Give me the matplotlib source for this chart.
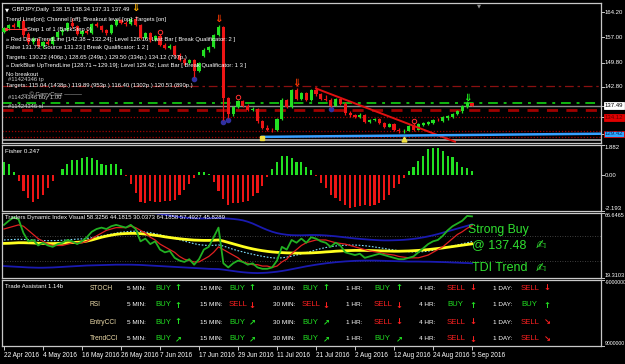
import matplotlib
matplotlib.use('Agg')
import matplotlib.pyplot as plt
import matplotlib.transforms as mtrans
from matplotlib.lines import Line2D

# ---------------- data ----------------
opens = [158.6, 159.6, 160.5, 159.9, 161.6, 157.8, 155.6, 156.6, 154.6, 155.7,
         155.2, 157.0, 158.6, 159.2, 161.0, 160.1, 158.0, 158.8, 158.2, 160.7,
         160.2, 159.0, 158.1, 160.6, 161.8, 161.1, 160.8, 162.3, 160.6, 156.9,
         158.2, 156.3, 157.4, 154.8, 154.0, 154.6, 151.9, 150.6, 149.6, 150.5,
         147.3, 151.8, 153.5, 154.2, 157.6, 160.0, 139.6, 135.0, 137.0, 138.7,
         137.5, 136.1, 136.4, 133.0, 131.2, 130.6, 130.4, 133.6, 139.2, 137.1,
         141.9, 139.4, 141.1, 139.1, 141.9, 140.7, 139.5, 139.2, 137.5, 139.4,
         138.0, 135.3, 134.7, 134.3, 134.9, 132.9, 133.3, 133.7, 132.4, 131.5,
         132.2, 130.6, 130.1, 130.3, 131.7, 130.6, 132.0, 132.3, 132.6, 133.5,
         133.1, 133.8, 134.3, 135.0, 135.8, 137.0, 138.15]
highs = [159.9, 160.8, 161.2, 162.0, 162.3, 158.4, 157.0, 156.9, 156.0, 156.5,
         157.3, 158.9, 159.6, 161.3, 162.6, 160.5, 159.1, 159.4, 161.0, 161.4,
         160.6, 159.4, 160.9, 162.1, 162.3, 161.6, 162.6, 163.1, 160.9, 158.5,
         158.6, 157.8, 157.9, 155.3, 155.0, 154.9, 152.4, 151.0, 150.9, 150.8,
         149.9, 153.9, 154.6, 157.9, 160.4, 160.3, 139.9, 137.4, 139.2, 139.0,
         137.9, 137.0, 136.9, 133.4, 131.8, 131.2, 134.0, 139.6, 139.5, 142.3,
         142.5, 141.5, 141.4, 142.2, 142.9, 141.0, 140.4, 139.6, 139.7, 139.7,
         138.4, 135.9, 135.2, 135.4, 135.1, 133.7, 134.0, 133.9, 132.8, 132.5,
         132.5, 131.0, 130.8, 131.9, 132.5, 132.6, 132.8, 133.1, 133.6, 133.9,
         134.4, 134.9, 135.5, 136.3, 137.6, 138.8, 138.34]
lows = [158.2, 159.2, 159.6, 159.7, 157.2, 155.0, 155.0, 154.2, 154.0, 154.8,
        154.9, 156.6, 157.8, 158.8, 159.8, 157.6, 157.4, 157.9, 158.0, 159.9,
        158.6, 157.6, 157.9, 160.3, 160.7, 160.2, 160.5, 160.3, 156.6, 156.5,
        155.8, 155.9, 154.4, 153.7, 153.6, 151.5, 150.3, 149.1, 149.3, 145.6,
        147.0, 151.5, 152.9, 153.9, 157.3, 133.5, 133.8, 134.5, 136.8, 137.2,
        135.8, 135.8, 132.6, 130.8, 130.3, 130.0, 130.2, 133.4, 136.8, 136.9,
        139.1, 139.1, 138.7, 138.9, 140.3, 139.0, 138.9, 137.2, 137.3, 137.6,
        134.9, 134.3, 133.9, 134.0, 132.6, 132.6, 133.0, 132.1, 131.2, 131.3,
        130.3, 129.7, 129.6, 130.1, 130.3, 130.4, 131.7, 132.0, 132.3, 133.0,
        132.8, 133.5, 134.0, 134.7, 135.5, 136.8, 137.31]
closes = [159.6, 160.5, 159.9, 161.6, 157.8, 155.6, 156.6, 154.6, 155.7, 155.2,
          157.0, 158.6, 159.2, 161.0, 160.1, 158.0, 158.8, 158.2, 160.7, 160.2,
          159.0, 158.1, 160.6, 161.8, 161.1, 160.8, 162.3, 160.6, 156.9, 158.2,
          156.3, 157.4, 154.8, 154.0, 154.6, 151.9, 150.6, 149.6, 150.5, 147.3,
          149.6, 153.5, 154.2, 157.6, 160.0, 139.6, 135.0, 137.0, 138.7, 137.5,
          136.1, 136.4, 133.0, 131.2, 130.6, 130.4, 133.6, 139.2, 137.1, 141.9,
          139.4, 141.1, 139.1, 141.9, 140.7, 139.4, 139.2, 137.5, 139.4, 138.0,
          135.3, 134.7, 134.3, 134.9, 132.9, 133.3, 133.7, 132.4, 131.5, 132.2,
          130.6, 130.1, 130.3, 131.7, 130.6, 132.3, 132.6, 132.9, 133.3, 133.3,
          134.1, 134.6, 135.2, 136.0, 137.3, 138.3, 137.49]

fisher = [0.86, 0.69, 0.2, -0.37, -0.94, -1.39, -1.63, -1.43, -1.18, -0.78,
          -0.37, 0.05, 0.41, 0.69, 0.94, 0.94, 1.06, 1.14, 1.06, 0.94,
          0.69, 0.65, 0.73, 0.69, 0.41, -0.05, -0.53, -1.08, -1.63, -1.69,
          -1.59, -1.63, -1.63, -1.55, -1.59, -1.49, -1.18, -0.88, -0.53, -0.16,
          0.2, 0.2, 0.08, -0.41, -0.98, -1.43, -1.8, -1.69, -1.69, -1.65,
          -1.55, -1.29, -1.08, -0.67, -0.12, 0.41, 0.86, 1.22, 1.22, 1.1,
          0.82, 0.82, 0.55, 0.35, -0.04, -0.47, -0.78, -1.18, -1.39, -1.59,
          -1.8, -2.0, -1.96, -1.9, -1.84, -1.9, -1.8, -1.69, -1.49, -1.18,
          -0.78, -0.53, -0.16, 0.25, 0.55, 0.9, 1.22, 1.63, 1.71, 1.67,
          1.51, 1.22, 1.16, 0.82, 0.55, 0.45, 0.247]

tdi_green = [58, 61, 63.5, 62, 52, 46, 47, 43, 45, 43,
             42, 44, 45, 47, 46, 44, 46, 49, 53, 55,
             56, 55, 57, 58, 57, 56, 58, 55, 46, 48,
             44, 46, 40, 38, 39, 34, 32, 31, 33, 29,
             33, 40, 42, 49, 56, 30, 27, 30, 32, 31,
             29, 30, 27, 26, 26, 27, 32, 42, 40, 47,
             45, 48, 45, 49, 48, 46, 45, 42, 45, 43,
             38, 37, 36, 37, 34, 35, 36, 37, 36, 35,
             34, 33, 33, 34, 35, 38, 41, 44, 46, 47,
             50, 54, 57, 59, 61, 64.5, 64.1858]
tdi_red = [55, 56, 57, 58, 57, 54, 51, 48, 46, 44,
           43, 43, 43, 44, 45, 45, 45, 46, 48, 50,
           52, 54, 55, 56, 56, 56, 57, 56, 54, 52,
           49, 47, 44, 42, 40, 38, 35, 33, 32, 31,
           31, 33, 35, 38, 42, 40, 38, 36, 34, 31,
           30, 29, 29, 28, 28, 27, 28, 31, 33, 37,
           40, 43, 45, 46, 47, 47, 47, 46, 45, 44.5,
           44, 43, 42, 41, 40, 39, 38.5, 38, 37, 36.5,
           36, 35, 34.5, 34, 34, 34, 35, 36, 38, 40,
           42, 45, 48, 51, 53, 55.5, 57.4927]
tdi_yellow = [44.5, 44.6, 44.8, 45.0, 45.0, 44.9, 44.8, 44.6, 44.5, 44.4,
              44.4, 44.5, 44.6, 44.9, 45.1, 45.3, 45.6, 46.2, 47.0, 48.0,
              49.0, 49.8, 50.5, 51.1, 51.5, 51.7, 51.8, 51.8, 51.6, 51.3,
              50.9, 50.4, 49.9, 49.3, 48.8, 48.3, 47.9, 47.5, 47.2, 46.9,
              46.8, 46.7, 46.7, 46.8, 47.0, 46.2, 45.2, 44.2, 43.2, 42.2,
              41.3, 40.5, 39.8, 39.2, 38.7, 38.3, 38.0, 37.8, 37.6, 37.5,
              37.4, 37.4, 37.5, 37.6, 37.8, 38.0, 38.3, 38.5, 38.8, 39.0,
              39.2, 39.3, 39.4, 39.4, 39.4, 39.3, 39.2, 39.1, 39.0, 38.9,
              38.8, 38.8, 38.9, 39.0, 39.2, 39.4, 39.7, 40.0, 40.4, 40.8,
              41.2, 41.7, 42.2, 42.7, 43.2, 43.7, 44.1815]
tdi_upper = [68.5, 68.8, 69.0, 69.2, 69.3, 69.2, 69.0, 68.7, 68.4, 68.1,
             67.8, 67.6, 67.5, 67.5, 67.6, 67.8, 68.0, 68.3, 68.6, 68.9,
             69.2, 69.4, 69.5, 69.5, 69.4, 69.2, 68.9, 68.5, 68.0, 67.5,
             67.0, 66.5, 66.0, 65.4, 64.8, 64.2, 63.7, 63.3, 63.0, 62.8,
             62.7, 62.7, 62.8, 62.9, 63.0, 62.8, 62.6, 62.3, 61.9, 61.3,
             60.3, 59.0, 57.4, 55.8, 54.3, 53.0, 52.0, 51.3, 50.8, 50.5,
             50.4, 50.4, 50.5, 50.6, 50.6, 50.5, 50.3, 50.0, 49.7, 49.3,
             48.9, 48.5, 48.1, 47.8, 47.5, 47.2, 47.0, 46.8, 46.7, 46.7,
             46.8, 46.9, 47.1, 47.4, 47.8, 48.3, 48.9, 49.6, 50.4, 51.3,
             52.3, 53.3, 54.3, 55.3, 56.3, 57.3, 58.3256]
tdi_lower = [28.0, 27.8, 27.6, 27.4, 27.2, 27.0, 26.9, 26.8, 26.8, 26.9,
             27.0, 27.2, 27.4, 27.6, 27.8, 28.0, 28.2, 28.4, 28.5, 28.6,
             28.7, 28.8, 28.9, 29.0, 29.0, 29.0, 29.0, 28.9, 28.8, 28.6,
             28.4, 28.2, 28.0, 27.8, 27.6, 27.4, 27.2, 27.0, 26.8, 26.6,
             26.4, 26.2, 26.0, 25.9, 25.8, 25.4, 24.9, 24.4, 23.9, 23.5,
             23.2, 23.0, 22.9, 23.0, 23.2, 23.5, 23.9, 24.4, 25.0, 25.7,
             26.4, 27.1, 27.8, 28.4, 29.0, 29.5, 30.0, 30.4, 30.8, 31.1,
             31.4, 31.6, 31.8, 31.9, 32.0, 32.0, 32.0, 31.9, 31.8, 31.7,
             31.6, 31.5, 31.4, 31.3, 31.3, 31.3, 31.2, 31.2, 31.1, 31.0,
             30.9, 30.8, 30.6, 30.5, 30.3, 30.2, 30.0373]
tdi_dotted = [47.0, 47.2, 47.4, 47.5, 47.4, 47.2, 47.0, 46.8, 46.6, 46.5,
              46.5, 46.6, 46.8, 47.1, 47.4, 47.6, 47.8, 48.1, 48.6, 49.2,
              49.9, 50.6, 51.3, 52.0, 52.6, 53.0, 53.3, 53.4, 53.2, 52.8,
              52.3, 51.6, 50.8, 50.0, 49.1, 48.2, 47.2, 46.2, 45.2, 44.3,
              43.6, 43.2, 43.0, 43.1, 43.4, 42.6, 41.4, 40.2, 39.2, 38.3,
              37.4, 36.6, 35.8, 35.1, 34.5, 34.0, 33.8, 34.0, 34.5, 35.2,
              36.0, 36.9, 37.8, 38.8, 39.8, 40.7, 41.5, 42.1, 42.6, 43.0,
              43.2, 43.3, 43.3, 43.1, 42.8, 42.4, 41.9, 41.4, 40.8, 40.2,
              39.7, 39.2, 38.8, 38.5, 38.3, 38.3, 38.5, 38.9, 39.5, 40.2,
              41.0, 41.8, 42.6, 43.4, 44.2, 45.0, 45.8289]

date_ticks = [0, 8, 16, 24, 32, 40, 48, 56, 64, 72, 80, 88, 96]
date_labels = ['22 Apr 2016', '4 May 2016', '16 May 2016', '26 May 2016', '7 Jun 2016',
               '17 Jun 2016', '29 Jun 2016', '11 Jul 2016', '21 Jul 2016', '2 Aug 2016',
               '12 Aug 2016', '24 Aug 2016', '5 Sep 2016']
price_ticks = [164.20, 157.00, 149.80, 142.80]

# horizontal levels in main chart
lvl_darkred_dashdot = 143.09
lvl_green_dashdot = 138.37
lvl_bid = 137.49
lvl_red_dash = 136.2
lvl_red_dot1 = 134.12
lvl_red_dot2 = 130.22
lvl_red_dot3 = 128.65
lvl_gray = 127.66
red_trend_x = [64, 92.5]
red_trend_y = [142.38, 127.17]
blue_trend_x = [53, 122.5]
blue_trend_y = [128.55, 129.45]

ta_rows = ['STOCH', 'RSI', 'EntryCCI', 'TrendCCI']
ta_frames = ['5 MIN:', '15 MIN:', '30 MIN:', '1 HR:', '4 HR:', '1 DAY:']
ta_signals = [['BUY', 'BUY', 'BUY', 'BUY', 'SELL', 'SELL'],
              ['BUY', 'SELL', 'SELL', 'SELL', 'BUY', 'BUY'],
              ['BUY', 'BUY', 'BUY', 'SELL', 'SELL', 'SELL'],
              ['BUY', 'BUY', 'BUY', 'BUY', 'SELL', 'SELL']]
ta_arrows = [['↑', '↑', '↑', '↑', '↓', '↓'],
             ['↑', '↓', '↓', '↓', '↑', '↑'],
             ['↑', '↗', '↗', '↓', '↓', '↘'],
             ['↗', '↗', '↗', '↗', '↓', '↘']]

# ---------------- figure ----------------
W, H = 625, 364
fig = plt.figure(figsize=(W / 100, H / 100), dpi=100, facecolor='black')
SANS = ['Liberation Sans', 'DejaVu Sans']
XMIN, XMAX = -0.41, 122.46
GREEN = '#22e022'
RED = '#ee1515'


def add_ax(y0, y1, x0=2, x1=601):
    ax = fig.add_axes([x0 / W, 1 - y1 / H, (x1 - x0) / W, (y1 - y0) / H])
    ax.set_facecolor('black')
    for s in ax.spines.values():
        s.set_color('#c8c8c8')
        s.set_linewidth(0.9)
    ax.set_xticks([])
    ax.set_yticks([])
    ax.set_xlim(XMIN, XMAX)
    return ax


def ptext(x, y, s, **kw):
    kw.setdefault('color', 'white')
    kw.setdefault('family', SANS)
    kw.setdefault('va', 'center')
    fig.text(x / W, 1 - y / H, s, **kw)


def right_label(ax, v, s, va='center', box=None, tc='white', fs=4.3):
    tr = mtrans.blended_transform_factory(ax.transAxes, ax.transData)
    ax.plot([1.0, 1.0 + 3 / 599], [v, v], transform=tr, clip_on=False,
            color='#c8c8c8', lw=0.7)
    kw = {}
    if box is not None:
        kw['bbox'] = dict(facecolor=box[0], edgecolor=box[1], pad=0.5, lw=0.6)
    ax.text(1.0 + 3.5 / 599, v, s, transform=tr, clip_on=False, fontsize=fs,
            color=tc, va=va, ha='left', family=SANS, **kw)


# ---- main price panel ----
axm = add_ax(3, 143)
axm.set_ylim(126.8, 166.8)
n = len(closes)
for i in range(n):
    o, h, l, c = opens[i], highs[i], lows[i], closes[i]
    col = GREEN if c >= o else RED
    axm.vlines(i, l, h, color=col, lw=0.9, zorder=3)
    lo, hi = min(o, c), max(o, c)
    if hi - lo < 0.12:
        hi = lo + 0.12
    axm.bar(i, hi - lo, bottom=lo, width=0.62, color=col, edgecolor=col, lw=0, zorder=4)

axm.axhline(lvl_darkred_dashdot, color='#8a1010', lw=0.9, dashes=(7, 3, 2, 3), zorder=2)
axm.axhline(lvl_green_dashdot, color='#10b810', lw=1.4, dashes=(5, 3, 1.5, 3), zorder=2)
axm.axhline(lvl_bid, color='#8c8c8c', lw=1.0, zorder=2)
axm.axhline(lvl_red_dash, color='#a00000', lw=2.0, dashes=(4, 3), zorder=2)
axm.axhline(lvl_red_dot1, color='#a00000', lw=0.9, dashes=(1, 1.5), zorder=2)
axm.axhline(lvl_red_dot2, color='#a00000', lw=0.9, dashes=(1, 1.5), zorder=2)
axm.axhline(lvl_red_dot3, color='#a00000', lw=0.9, dashes=(1, 1.5), zorder=2)
axm.axhline(lvl_gray, color='#b0b0b0', lw=1.2, zorder=2)
axm.plot(red_trend_x, red_trend_y, color='#e01010', lw=1.4, zorder=5)
axm.plot(blue_trend_x, blue_trend_y, color='#35a0ff', lw=1.8, zorder=5)

# signal markers
for b, p, col in [(27, 165.3, '#ffb000'), (44, 162.2, '#ff3a00'),
                  (60, 144.0, '#ff3a00'), (95, 139.7, '#20ff20')]:
    axm.text(b, p, '⇓', ha='center', va='center', color=col, fontsize=7.5,
             family='DejaVu Sans', fontweight='bold', zorder=6)
for b, p in [(32, 158.5), (48, 139.9), (84, 133.1)]:
    axm.plot(b, p, 'o', mfc='none', mec='#ff3030', ms=3.2, mew=0.7, zorder=6)
for b, p in [(39, 145.2), (45, 132.9), (46, 133.3), (67, 136.6)]:
    axm.plot(b, p, 'o', color='#3030a0', ms=3, zorder=2)
axm.plot(53, 128.2, 's', color='#f0e040', ms=3.5, zorder=6)
axm.plot(82, 127.9, '^', color='#f0e040', ms=3.5, zorder=6)

for v in price_ticks:
    right_label(axm, v, '%.2f' % v)
right_label(axm, lvl_bid, '137.49', box=('white', 'white'), tc='black')
right_label(axm, lvl_red_dot1, '134.12', box=('#e00000', '#e00000'), tc='#600000')
right_label(axm, 129.42, '129.42', box=('#30a8ff', '#e00000'), tc='#003060')

# main text overlay
FS = 4.2
ptext(5, 10, '▼', fontsize=3.8, family='DejaVu Sans')
ptext(12, 10, 'GBPJPY,Daily  138.15 138.34 137.31 137.49', fontsize=FS)
ptext(6, 20, 'Trend Line[on]; Channel [off]; Breakout level [op]; Targets [on]', fontsize=FS)
fig.add_artist(Line2D([6 / W, 25 / W], [1 - 29 / H] * 2, color='#ff4040', lw=0.7,
                      marker='o', ms=1.5, markevery=[0, 1]))
ptext(27, 29, 'Step 1 of 1 (BackStep 0)', fontsize=FS)
ptext(6, 39, '» Red DownTrendLine [142.38→132.24]; Level 126.16; Last Bar [ Break Qualificator: 2 ]', fontsize=FS)
ptext(6, 48, 'False 131.73; Source 131.23 [ Break Qualificator: 1 2 ]', fontsize=FS)
ptext(6, 57, 'Targets: 130.22 (406p.) 128.65 (249p.) 129.50 (334p.) 134.12 (797p.)', fontsize=FS)
ptext(6, 66, '» DarkBlue UpTrendLine [128.71→129.19]; Level 129.42; Last Bar [ Break Qualificator: 1 3 ]', fontsize=FS)
ptext(6, 75, 'No breakout', fontsize=FS)
ptext(8, 80, '#11424346 tp', fontsize=FS, color='#d0d0d0')
ptext(6, 86, 'Targets: 115.04 (1438p.) 119.89 (953p.) 116.40 (1302p.) 120.53 (890p.)', fontsize=FS)
ptext(22, 94, '— © GarryCruz ———', fontsize=FS, color='#d0d0d0')
ptext(8, 98, '#11424346 buy 1.00', fontsize=FS, color='#d0d0d0')
ptext(8, 107, '#11424346 sl', fontsize=FS, color='#d0d0d0')
ptext(479, 6, '▼', fontsize=3.8, family='DejaVu Sans', color='#909090', ha='center')

# ---- Fisher panel ----
axf = add_ax(145, 211)
axf.set_ylim(-2.193, 1.882)
fcols = [GREEN if v > 0 else RED for v in fisher]
axf.bar(range(n), fisher, width=0.42, color=fcols, lw=0)
right_label(axf, 1.882, '1.882', va='top')
right_label(axf, 0.0, '0.00')
right_label(axf, -2.193, '-2.193', va='bottom')
ptext(5, 151, 'Fisher 0.247', fontsize=4.5)

# ---- TDI panel ----
axt = add_ax(213, 278)
axt.set_ylim(19.3103, 66.6465)
x = list(range(n))
axt.axhline(50, color='#555555', lw=0.6, dashes=(1, 2))
axt.axhline(32, color='#555555', lw=0.6, dashes=(1, 2))
axt.plot(x, tdi_upper, color='#1a1ab0', lw=1.3)
axt.plot(x, tdi_lower, color='#1a1ab0', lw=1.3)
axt.plot(x, tdi_dotted, color='#80e0ff', lw=0.8, dashes=(1.5, 1.5))
axt.plot(x, tdi_yellow, color='#ffff20', lw=2.0)
axt.plot(x, tdi_red, color='#e02020', lw=0.9)
axt.plot(x, tdi_green, color='#22b022', lw=1.3)
right_label(axt, 66.6465, '66.6465', va='top', fs=4.0)
right_label(axt, 19.3103, '19.3103', va='bottom', fs=4.0)
ptext(5, 218, 'Traders Dynamic Index Visual 58.3256 44.1815 30.0373 64.1858 57.4927 45.8289', fontsize=4.3)
ptext(468, 230, 'Strong Buy', fontsize=8.8, color='#30e030')
ptext(472, 245, '@ 137.48', fontsize=9.0, color='#30e030')
ptext(472, 268, 'TDI Trend', fontsize=9.0, color='#30e030')
ptext(541, 245, '✍', fontsize=9, color='#30e030', family='DejaVu Sans', ha='center')
ptext(541, 268, '✍', fontsize=9, color='#30e030', family='DejaVu Sans', ha='center')

# ---- Trade Assistant panel ----
axa = add_ax(280, 346)
axa.set_ylim(0, 1)
right_label(axa, 1.0, '-9000000', va='top', fs=3.7)
right_label(axa, 0.0, '9000000', va='bottom', fs=3.7)
ptext(5, 287, 'Trade Assistant 1.14b', fontsize=4.3)
row_y = [288, 305, 322, 339]
frame_x = [127, 200, 273, 346, 419, 493]
val_x = [155, 229, 302, 374, 447, 521]
arr_x = [178, 252, 326, 399, 473, 547]
for r, name in enumerate(ta_rows):
    yy = row_y[r]
    ptext(90, yy, name, fontsize=4.8, color='#eedcaa')
    for k in range(6):
        ptext(frame_x[k], yy, ta_frames[k], fontsize=4.6)
        sig = ta_signals[r][k]
        col = '#22e022' if sig == 'BUY' else '#ff2020'
        ptext(val_x[k], yy, sig, fontsize=5.6, color=col)
        ptext(arr_x[k], yy, ta_arrows[r][k], fontsize=6, color=col,
              family='DejaVu Sans', fontweight='bold', ha='center')

axa.set_xticks(date_ticks)
axa.set_xticklabels(date_labels, ha='left', fontsize=4.7, color='white', family=SANS)
axa.tick_params(axis='x', colors='#c8c8c8', length=3, width=0.7, pad=1, labelcolor='white')

fig.savefig('out.png', dpi=100, facecolor='black')
